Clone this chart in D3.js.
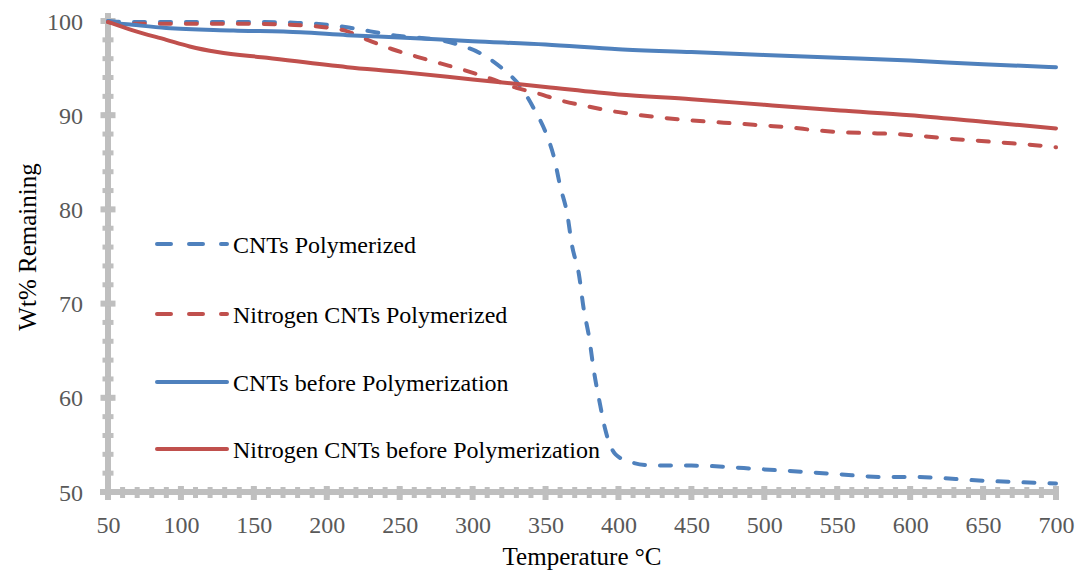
<!DOCTYPE html>
<html>
<head>
<meta charset="utf-8">
<script src="https://cdn.jsdelivr.net/npm/d3@7"></script>
<style>
  html, body { margin: 0; padding: 0; background: #fff; }
  svg { display: block; }
  text { font-family: "Liberation Serif", "Times New Roman", serif; }
</style>
</head>
<body>
<svg id="chart" width="1081" height="577"></svg>
<script>
// Thermogravimetric curves: temperature (°C) vs weight remaining (%)
const cntsPolyT = [50, 60, 100, 150, 180, 200, 215, 230, 250, 265, 280, 292, 305, 320, 333, 342, 350, 356, 360, 365, 368, 373, 376, 380, 383, 387, 391, 398, 410, 425, 450, 500, 550, 580, 600, 650, 700];
const cntsPolyW = [100, 99.9, 99.9, 99.9, 99.8, 99.6, 99.3, 98.9, 98.4, 98.2, 97.9, 97.4, 96.6, 95.0, 93.0, 90.7, 88.2, 85.4, 82.5, 79.4, 76.3, 73.0, 69.6, 66.3, 63.0, 59.6, 56.6, 54.0, 53.1, 52.8, 52.8, 52.4, 51.9, 51.6, 51.6, 51.2, 50.9];

const nitroPolyT = [50, 60, 100, 150, 175, 195, 212, 228, 245, 262, 278, 294, 312, 330, 345, 362, 380, 397, 415, 432, 445, 463, 483, 500, 518, 535, 553, 570, 590, 607, 627, 646, 662, 680, 700];
const nitroPolyW = [99.9, 99.7, 99.7, 99.7, 99.6, 99.4, 99.0, 98.0, 97.0, 96.2, 95.5, 94.8, 93.9, 92.9, 92.3, 91.5, 90.9, 90.4, 90.0, 89.7, 89.5, 89.3, 89.1, 88.9, 88.7, 88.4, 88.2, 88.1, 88.0, 87.8, 87.5, 87.3, 87.1, 86.9, 86.6];

const cntsBeforeT = [50, 55, 67, 90, 136, 182, 214, 250, 300, 350, 400, 450, 500, 550, 600, 650, 700];
const cntsBeforeW = [100, 99.8, 99.6, 99.25, 99.0, 98.8, 98.5, 98.25, 97.85, 97.5, 97.0, 96.7, 96.4, 96.1, 95.8, 95.4, 95.1];

const nitroBeforeT = [50, 67, 90, 106, 125, 159, 214, 250, 300, 350, 400, 450, 500, 552, 600, 650, 700];
const nitroBeforeW = [99.9, 99.0, 98.0, 97.3, 96.7, 96.1, 95.1, 94.6, 93.8, 93.0, 92.2, 91.7, 91.1, 90.5, 90.0, 89.3, 88.6];

const seriesNames = ["CNTs Polymerized", "Nitrogen CNTs Polymerized", "CNTs before Polymerization", "Nitrogen CNTs before Polymerization"];

const xTicks = [50, 100, 150, 200, 250, 300, 350, 400, 450, 500, 550, 600, 650, 700];
const yTicks = [50, 60, 70, 80, 90, 100];
const xMinorTicks = d3.range(50, 701, 10);
const yMinorTicks = d3.range(50, 100.1, 2);

const xTitle = "Temperature °C";
const yTitle = "Wt% Remaining";

// ---- drawing ----
const svg = d3.select("#chart");
const plotLeft = 108, plotRight = 1056, plotTop = 21, plotBottom = 492;

const x = d3.scaleLinear().domain([50, 700]).range([plotLeft, plotRight]);
const y = d3.scaleLinear().domain([50, 100]).range([plotBottom, plotTop]);

const axisGrey = "#bfbfbf";
const blue = "#4f81bd", red = "#c0504d";

const series = [
  { name: seriesNames[0], t: cntsPolyT,    w: cntsPolyW,    color: blue, dashed: true },
  { name: seriesNames[1], t: nitroPolyT,   w: nitroPolyW,   color: red,  dashed: true },
  { name: seriesNames[2], t: cntsBeforeT,  w: cntsBeforeW,  color: blue, dashed: false },
  { name: seriesNames[3], t: nitroBeforeT, w: nitroBeforeW, color: red,  dashed: false }
];

// axis lines
const axes = svg.append("g");
axes.append("line")
  .attr("x1", x(50)).attr("x2", x(50))
  .attr("y1", y(100) - 8).attr("y2", y(50))
  .attr("stroke", axisGrey).attr("stroke-width", 6);
axes.append("line")
  .attr("x1", x(50) - 8).attr("x2", x(700) + 2)
  .attr("y1", y(50)).attr("y2", y(50))
  .attr("stroke", axisGrey).attr("stroke-width", 6);

// minor ticks crossing the axes
axes.selectAll(".yminor").data(yMinorTicks).join("line")
  .attr("x1", x(50) - 5.5).attr("x2", x(50) + 5.5)
  .attr("y1", d => y(d)).attr("y2", d => y(d))
  .attr("stroke", axisGrey).attr("stroke-width", 5);
axes.selectAll(".xminor").data(xMinorTicks).join("line")
  .attr("x1", d => x(d)).attr("x2", d => x(d))
  .attr("y1", y(50) - 5).attr("y2", y(50) + 6)
  .attr("stroke", axisGrey).attr("stroke-width", 5);
// major ticks
axes.selectAll(".ymajor").data(yTicks).join("line")
  .attr("x1", x(50) - 7.5).attr("x2", x(50) + 7.5)
  .attr("y1", d => y(d)).attr("y2", d => y(d))
  .attr("stroke", axisGrey).attr("stroke-width", 6);
axes.selectAll(".xmajor").data(xTicks).join("line")
  .attr("x1", d => x(d)).attr("x2", d => x(d))
  .attr("y1", y(50) - 6).attr("y2", y(50) + 8)
  .attr("stroke", axisGrey).attr("stroke-width", 6);

// tick labels via d3 axes (no tick lines)
const xAxis = svg.append("g")
  .attr("transform", `translate(0,${plotBottom})`)
  .call(d3.axisBottom(x).tickValues(xTicks).tickSize(0).tickPadding(0).tickFormat(d3.format("d")));
xAxis.select(".domain").remove();
xAxis.selectAll("text")
  .attr("y", 41).attr("dy", null)
  .attr("fill", "#595959")
  .style("font-size", "24px")
  .style("font-family", "'Liberation Serif', 'Times New Roman', serif");

const yAxis = svg.append("g")
  .attr("transform", `translate(${plotLeft},0)`)
  .call(d3.axisLeft(y).tickValues(yTicks).tickSize(0).tickPadding(0).tickFormat(d3.format("d")));
yAxis.select(".domain").remove();
yAxis.selectAll("text")
  .attr("x", -25).attr("dy", "0.34em")
  .attr("fill", "#595959")
  .style("font-size", "24px")
  .style("font-family", "'Liberation Serif', 'Times New Roman', serif");

// axis titles
svg.append("text")
  .attr("x", (plotLeft + plotRight) / 2).attr("y", 565)
  .attr("text-anchor", "middle")
  .attr("fill", "#000")
  .style("font-size", "25px")
  .text(xTitle);
svg.append("text")
  .attr("transform", `translate(36,247) rotate(-90)`)
  .attr("text-anchor", "middle")
  .attr("fill", "#000")
  .style("font-size", "25px")
  .text(yTitle);

// data curves
const line = d3.line()
  .x(d => x(d[0]))
  .y(d => y(d[1]))
  .curve(d3.curveMonotoneX);

svg.append("g").selectAll("path").data(series).join("path")
  .attr("d", s => line(s.t.map((t, i) => [t, s.w[i]])))
  .attr("fill", "none")
  .attr("stroke", s => s.color)
  .attr("stroke-width", 4)
  .attr("stroke-linecap", "round")
  .attr("stroke-linejoin", "round")
  .attr("stroke-dasharray", s => s.dashed ? "11,15" : null);

// legend
const legendRows = [244, 314, 382, 449];
const legend = svg.append("g");
series.forEach((s, i) => {
  const ly = legendRows[i];
  legend.append("line")
    .attr("x1", 157).attr("x2", 227)
    .attr("y1", ly).attr("y2", ly)
    .attr("stroke", s.color)
    .attr("stroke-width", 4)
    .attr("stroke-linecap", "round")
    .attr("stroke-dasharray", s.dashed ? "14,18" : null);
  legend.append("text")
    .attr("x", 233).attr("y", ly + 9)
    .attr("fill", "#000")
    .style("font-size", "24px")
    .text(s.name);
});
</script>
</body>
</html>
